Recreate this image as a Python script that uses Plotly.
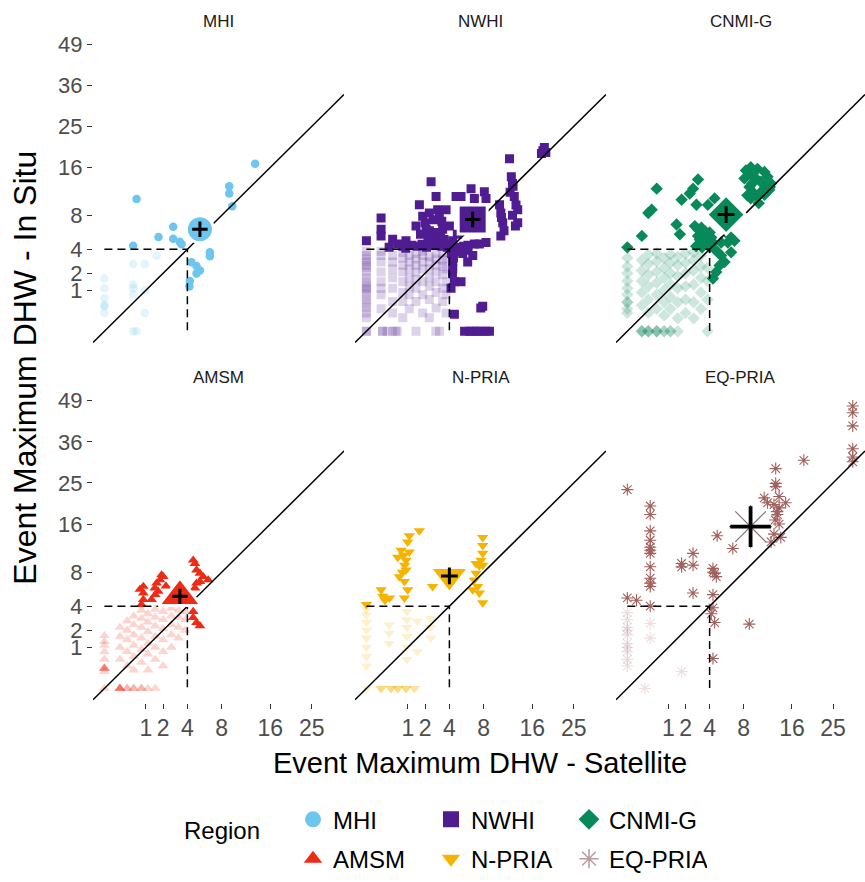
import numpy as np
import plotly.graph_objects as go

FONT = "Liberation Sans, Arial, sans-serif"

# ---------------- data (DHW values, satellite vs in situ) ----------------
region_names = ["MHI", "NWHI", "CNMI-G", "AMSM", "N-PRIA", "EQ-PRIA"]
region_colors = ["#6CC6EE", "#4F1C92", "#08895A", "#EE2B16", "#F5B400", "#A0605C"]
region_symbols = ["circle", "square", "diamond", "triangle-up", "triangle-down", "asterisk-open"]

y_tick_values = [1, 2, 4, 8, 16, 25, 36, 49]
x_tick_values = [1, 2, 4, 8, 16, 25]
bleaching_threshold = 4

mean_satellite = [5.3, 6.56, 5.76, 3.31, 4.0, 8.97]
mean_insitu = [6.2, 7.44, 8.1, 5.02, 7.49, 15.5]

mhi_points = [
    (13.2, 16.7), (0.6, 10.4), (9.05, 12.5), (9.05, 11.3), (9.5, 9.3), (2.75, 6.5),
    (1.7, 5.3), (2.75, 5.1), (3.3, 4.76), (3.46, 4.5), (0.48, 4.35), (6.46, 3.71),
    (6.46, 3.35), (4.4, 2.84), (4.93, 2.53), (5.3, 2.2), (4.93, 1.98), (4.24, 1.5),
    (4.2, 1.2),
    (0, 1.66), (0, 1.1), (0, 0.65), (0, 0.37), (0, 0.2), (0, 0.4), (0.48, 2.7),
    (0.95, 2.7), (0.48, 1.1), (0.48, 0.8), (0.48, 1.3), (0.95, 1.0), (0.95, 0.2),
    (0.48, 0), (0.6, 0), (1.58, 3.4),
]

nwhi_points = [
    (5.6, 0), (6.2, 0), (6.6, 0), (7.1, 0), (7.6, 0), (8.3, 0), (8.8, 0),
    (4.33, 2.85), (4.33, 2.33), (4.5, 1.46), (4.16, 1.1), (5.2, 1.46), (5.96, 2.85),
    (6.57, 3.41), (6.77, 4.52), (7.41, 4.52), (8.31, 4.69), (4.5, 0.17), (7.86, 0.37),
    (7.6, 0.32), (4.67, 3.8), (5.39, 3.6), (6.0, 3.9), (4.2, 4.0), (4.4, 3.2),
    (4.2, 3.6), (4.3, 2.0),
    (0, 4.87), (0.125, 7.65), (0.125, 6.18), (0.125, 5.41), (0.4, 5.05), (0.57, 4.52),
    (0.77, 4.3), (0.91, 4.87), (1.43, 6.58), (1.63, 9.52), (1.84, 7.87), (2.07, 6.18),
    (2.3, 8.33), (2.43, 13.3), (2.82, 10.8), (2.95, 8.8), (3.09, 7.65), (3.38, 6.18),
    (3.69, 8.8), (4.0, 6.58), (4.33, 4.87), (4.67, 10.8), (5.2, 10.8), (6.36, 12.1),
    (6.77, 10.5), (8.08, 11.6), (8.31, 10.5), (7.86, 6.18), (1.5, 4.3), (1.8, 4.5),
    (2.1, 4.2), (2.4, 4.6), (2.7, 4.4), (3.0, 4.8), (3.3, 4.3), (3.6, 4.5), (2.2, 5.2),
    (2.6, 5.5), (2.9, 5.8), (3.2, 5.3), (3.5, 5.0), (3.8, 4.2), (2.0, 7.0), (2.6, 7.4),
    (3.3, 7.2), (2.3, 6.0), (1.7, 5.6), (1.2, 4.4), (0.9, 4.1), (0.3, 4.2), (4.1, 4.3),
    (4.6, 4.1), (5.0, 4.2), (5.5, 4.3), (6.0, 4.4), (4.8, 5.6),
    (11.9, 17.7), (12.2, 14.2), (12.4, 13.0), (12.7, 10.8), (13.3, 8.8), (13.3, 7.0),
    (10.3, 9.52), (10.5, 8.33), (10.8, 7.0), (10.5, 5.41), (12.9, 6.58), (12.0, 11.5),
    (12.5, 12.5), (11.0, 6.0), (10.6, 7.7), (13.0, 9.5), (12.4, 8.0), (18.4, 20.1),
    (18.1, 19.4), (18.7, 19.0), (17.8, 18.8),
    (0, 0), (0, 0), (0, 0.11), (0, 0.2), (0, 0.32), (0, 0.45), (0, 0.6), (0, 0.79),
    (0, 1.0), (0, 1.2), (0, 1.46), (0, 1.7), (0, 2.09), (0, 2.4), (0, 2.85), (0, 3.1),
    (0, 3.41), (0, 3.8), (0, 1.1), (0, 2.6),
    (0.15, 0), (0.15, 0), (0.125, 0.3), (0.125, 0.79), (0.125, 1.1), (0.125, 1.46),
    (0.125, 2.09), (0.125, 2.85), (0.125, 3.41), (0.125, 3.8),
    (0.25, 0), (0.4, 0), (0.4, 0.2), (0.4, 0.53), (0.4, 1.1), (0.4, 1.7), (0.4, 2.3),
    (0.4, 2.85), (0.4, 3.41),
    (0.5, 0), (0.55, 0), (0.77, 0.11), (0.77, 0.53), (0.77, 0.9), (0.77, 1.46),
    (0.77, 2.09), (0.77, 2.6), (0.77, 3.2), (0.77, 3.7),
    (1.07, 0.3), (1.07, 0.79), (1.07, 1.2), (1.07, 1.7), (1.07, 2.3), (1.07, 2.85),
    (1.07, 3.41),
    (1.43, 0), (1.43, 0.53), (1.43, 1.1), (1.43, 1.6), (1.43, 2.09), (1.43, 2.6),
    (1.43, 3.1), (1.43, 3.6),
    (1.84, 0.2), (1.84, 0.79), (1.84, 1.46), (1.84, 2.3), (1.84, 2.85), (1.84, 3.41),
    (1.84, 3.8),
    (2.3, 0.11), (2.3, 0.6), (2.3, 1.2), (2.3, 1.7), (2.3, 2.3), (2.3, 2.85), (2.3, 3.3),
    (2.8, 0), (3.1, 0), (2.82, 0.32), (2.82, 0.9), (2.82, 1.46), (2.82, 2.09),
    (2.82, 2.6), (2.82, 3.1), (2.82, 3.6),
    (3.38, 0.53), (3.38, 1.1), (3.38, 1.9), (3.38, 2.5), (3.38, 3.0), (3.38, 3.7),
    (3.69, 0.2), (3.69, 0.79), (3.69, 1.46), (3.69, 2.3), (3.69, 3.1),
]

cnmi_points = [
    (8.3, 15.4), (9.0, 16.0), (10.0, 15.7), (11.1, 15.1), (11.6, 14.2), (12.2, 13.0),
    (11.9, 11.9), (11.1, 11.1), (9.5, 11.3), (8.8, 12.4), (8.1, 13.9), (8.8, 14.8),
    (10.5, 13.3), (9.5, 14.2), (11.3, 12.4), (10.0, 10.8), (10.5, 11.5), (12.0, 12.4),
    (10.2, 9.77), (9.2, 13.0), (9.0, 10.5), (8.5, 11.0),
    (2.95, 13.7), (2.55, 12.1), (2.3, 11.3), (1.74, 10.3), (2.82, 9.52), (0.51, 12.1),
    (0.35, 8.8), (0.26, 8.33), (0.125, 5.41), (1.43, 6.79), (1.63, 5.6), (0, 4.19),
    (4.5, 10.5), (3.84, 9.5),
    (2.69, 6.58), (2.95, 6.18), (3.24, 6.38), (3.53, 5.98), (3.84, 5.6), (4.16, 5.23),
    (2.95, 5.41), (3.4, 4.87), (3.7, 4.52), (4.0, 4.19), (4.33, 4.69), (4.5, 4.03),
    (4.84, 3.71), (5.2, 3.41), (5.58, 2.85), (5.02, 2.58), (4.67, 2.09), (4.33, 1.66),
    (5.96, 4.69), (6.36, 3.71), (6.77, 4.87), (6.16, 5.41), (5.2, 4.69), (3.1, 5.0),
    (3.6, 5.2), (4.0, 5.8), (2.8, 4.3), (3.3, 4.2),
    (0, 0.2), (0, 0.3), (0, 0.5), (0, 0.5), (0, 0.8), (0, 1.1), (0, 1.5), (0, 2.0),
    (0, 2.5), (0, 3.2),
    (0.125, 0), (0.125, 0), (0.125, 0), (0.125, 0.4), (0.125, 0.9), (0.125, 1.5),
    (0.125, 2.2), (0.125, 3.0),
    (0.26, 0), (0.26, 0), (0.26, 0), (0.26, 0.2), (0.26, 0.6), (0.26, 1.2), (0.26, 1.9),
    (0.26, 2.7), (0.26, 3.5),
    (0.51, 0), (0.51, 0), (0.51, 0), (0.51, 0.3), (0.51, 0.8), (0.51, 1.4), (0.51, 2.1),
    (0.51, 2.9), (0.51, 3.6),
    (0.8, 0), (0.8, 0), (0.8, 0.15), (0.8, 0.5), (0.8, 1.0), (0.8, 1.7), (0.8, 2.4),
    (0.8, 3.2),
    (1.1, 0), (1.1, 0), (1.1, 0.3), (1.1, 0.7), (1.1, 1.3), (1.1, 2.0), (1.1, 2.8),
    (1.1, 3.5),
    (1.5, 0), (1.5, 0.1), (1.5, 0.5), (1.5, 1.1), (1.5, 1.8), (1.5, 2.6), (1.5, 3.3),
    (2.0, 0.2), (2.0, 0.6), (2.0, 1.2), (2.0, 2.0), (2.0, 2.8), (2.0, 3.6),
    (2.6, 0.1), (2.6, 0.5), (2.6, 1.3), (2.6, 2.2), (2.6, 3.0), (2.6, 3.7),
    (3.2, 0.3), (3.2, 0.9), (3.2, 1.7), (3.2, 2.5), (3.2, 3.4),
    (3.8, 0), (3.8, 0.6), (3.8, 1.5), (3.8, 2.4),
]

amsm_points = [
    (0.88, 6.16), (0.88, 5.39), (0.88, 4.68), (0.8, 4.17), (0.73, 5.8), (1.29, 4.68),
    (1.48, 5.96), (1.58, 6.56), (1.68, 5.58), (1.9, 7.62), (1.79, 6.97), (2.01, 7.4),
    (1.5, 5.2), (4.58, 9.73), (4.76, 9.24), (4.93, 8.3), (5.3, 7.84), (5.67, 7.4),
    (6.26, 6.97), (5.3, 6.77), (4.76, 5.96), (4.93, 6.56), (4.58, 2.97), (4.93, 2.57),
    (5.3, 2.32), (4.58, 3.5), (2.2, 6.2), (3.0, 6.0), (2.6, 5.0),
    (0, 1.65), (0, 1.3), (0, 1.1), (0, 0.79), (0, 0.5), (0, 0.24), (0, 0.24), (0, 0.24),
    (0, 0.24), (0, 0.17), (0, 0),
    (0.14, 0), (0.14, 0), (0.14, 0), (0.14, 0), (0.14, 0), (0.14, 0.5), (0.14, 1.0),
    (0.14, 1.6), (0.14, 2.2),
    (0.3, 0), (0.3, 0), (0.3, 0.3), (0.3, 0.8), (0.3, 1.4), (0.3, 2.0), (0.3, 2.7),
    (0.5, 0), (0.5, 0), (0.5, 0.2), (0.5, 0.6), (0.5, 1.1), (0.5, 1.7), (0.5, 2.4),
    (0.5, 3.1),
    (0.8, 0), (0.8, 0), (0.8, 0.4), (0.8, 0.9), (0.8, 1.5), (0.8, 2.2), (0.8, 2.9),
    (0.8, 3.6),
    (1.1, 0), (1.1, 0.2), (1.1, 0.7), (1.1, 1.2), (1.1, 1.9), (1.1, 2.6), (1.1, 3.3),
    (1.5, 0), (1.5, 0.5), (1.5, 1.0), (1.5, 1.6), (1.5, 2.3), (1.5, 3.0), (1.5, 3.7),
    (2.0, 0.3), (2.0, 0.8), (2.0, 1.4), (2.0, 2.1), (2.0, 2.8), (2.0, 3.5),
    (2.6, 1.0), (2.6, 1.7), (2.6, 2.4), (2.6, 3.1), (2.6, 3.8),
    (3.2, 1.5), (3.2, 2.2), (3.2, 3.0), (3.2, 3.6),
    (3.8, 2.0), (3.8, 2.8), (3.8, 3.5),
]

npria_points = [
    (1.63, 14.7), (1.07, 13.8), (0.99, 12.7), (0.7, 11.3), (1.07, 11.0), (0.57, 10.2),
    (0.91, 9.73), (0.91, 8.3), (0.63, 7.4), (0.84, 6.77), (0.99, 5.77), (0.84, 4.85),
    (0.125, 5.77), (0.155, 5.03), (0.31, 4.85), (0, 4.17), (0.2, 4.6), (2.55, 6.16),
    (0.8, 10.5), (0.85, 9.0), (0.75, 8.0),
    (7.86, 13.5), (7.86, 12.1), (7.86, 10.8), (7.63, 9.73), (7.86, 9.0), (6.98, 7.84),
    (6.77, 6.97), (7.2, 6.16), (7.41, 5.39), (7.86, 4.34), (6.57, 5.77), (6.98, 9.24),
    (7.41, 8.9),
    (0, 0.3), (0, 0.6), (0, 1.0), (0, 1.5), (0, 2.0), (0, 2.6), (0, 3.2), (0, 3.7),
    (0.95, 0.5), (0.95, 1.0), (0.95, 1.6), (0.95, 2.2), (0.95, 2.8), (0.95, 3.5),
    (0.3, 1.2), (0.3, 1.8), (0.3, 2.4),
    (2.4, 1.5), (2.4, 2.2), (2.4, 2.9),
    (1.5, 0.8), (1.5, 2.7),
    (0.125, 0), (0.125, 0), (0.125, 0), (0.35, 0), (0.35, 0), (0.35, 0),
    (0.57, 0), (0.57, 0), (0.57, 0), (0.91, 0), (0.91, 0), (0.91, 0),
    (1.34, 0), (1.34, 0), (0, 0),
]

eqpria_points = [
    (30.0, 47.2), (30.0, 45.0), (30.0, 40.8), (30.0, 34.0), (30.0, 31.7), (30.0, 30.4),
    (18.4, 30.8), (13.0, 28.6), (13.0, 24.9), (13.0, 24.1), (11.06, 21.5), (12.7, 20.0),
    (13.6, 19.3), (14.8, 20.4), (13.3, 17.9), (13.6, 16.0), (12.7, 14.1), (13.9, 13.5),
    (12.2, 12.7), (11.6, 20.4), (13.6, 21.8), (13.2, 18.5), (12.9, 16.8),
    (4.77, 13.8), (6.57, 11.6), (8.78, 2.45), (2.55, 10.8), (2.55, 9.0), (1.74, 9.24),
    (1.74, 8.75), (2.55, 5.39), (4.33, 8.53), (4.5, 7.84), (4.67, 7.4), (4.33, 8.0),
    (4.33, 5.21), (4.33, 3.85), (4.5, 2.57), (4.33, 0.53), (4.16, 3.3),
    (0.31, 19.7), (0.31, 17.9), (0.31, 14.7), (0.31, 11.8), (0.31, 11.3), (0.31, 10.8),
    (0.31, 8.76), (0.31, 7.19), (0.31, 6.56), (0.31, 6.16), (0.31, 4.01), (0.31, 13.0),
    (0, 23.4), (0, 4.85), (0.05, 4.6),
    (0, 3.4), (0, 2.8), (0, 2.2), (0, 1.7), (0, 1.2), (0, 0.8), (0, 0.5), (0, 0.3),
    (0, 2.0), (0, 1.0), (0.31, 2.5), (0.31, 1.5), (0.18, 0), (1.74, 0.17),
]

all_points = [mhi_points, nwhi_points, cnmi_points, amsm_points, npria_points, eqpria_points]

# ---------------- styling / layout geometry ----------------
W, H = 865, 882
col_px = [(93, 344), (355, 606), (616, 865)]
row_px = [(30.5, 351.6), (393, 715)]
x_range = [-0.275, 5.775]
y_range = [-0.35, 7.35]

small_sizes = [8.5, 9, 9.5, 9.5, 10, 10]
mean_sizes = [27, 29, 30, 37, 34, 36]
cross_sizes = [11, 11, 12, 11, 12, 29]
faded_alpha = 0.2

fig = go.Figure()
layout_axes = {}
annotations = []

for i, name in enumerate(region_names):
    r, c = divmod(i, 3)
    suffix = "" if i == 0 else str(i + 1)
    xref, yref = "x" + suffix, "y" + suffix
    color = region_colors[i]
    sym = region_symbols[i]
    is_open = sym.endswith("-open")

    pts = all_points[i]
    sat = np.array([p[0] for p in pts], dtype=float)
    ins = np.array([p[1] for p in pts], dtype=float)
    low = (sat < bleaching_threshold) & (ins < bleaching_threshold)

    def mk(size, op):
        if is_open:
            return dict(symbol=sym, size=size, opacity=op, color=color,
                        line=dict(color=color, width=1.1))
        return dict(symbol=sym, size=size, opacity=op, color=color, line=dict(width=0))

    fig.add_trace(go.Scatter(x=np.sqrt(sat[low]), y=np.sqrt(ins[low]), mode="markers",
                             marker=mk(small_sizes[i], faded_alpha), showlegend=False,
                             xaxis=xref, yaxis=yref, hoverinfo="skip"))
    fig.add_trace(go.Scatter(x=np.sqrt(sat[~low]), y=np.sqrt(ins[~low]), mode="markers",
                             marker=mk(small_sizes[i], 1.0), showlegend=False,
                             xaxis=xref, yaxis=yref, hoverinfo="skip"))
    # 1:1 line
    fig.add_trace(go.Scatter(x=x_range, y=x_range, mode="lines",
                             line=dict(color="black", width=1.5), showlegend=False,
                             xaxis=xref, yaxis=yref, hoverinfo="skip"))
    # threshold lines
    t = np.sqrt(bleaching_threshold)
    fig.add_trace(go.Scatter(x=[0, t, t], y=[t, t, 0], mode="lines",
                             line=dict(color="black", width=1.5, dash="8px,5px"),
                             showlegend=False, xaxis=xref, yaxis=yref, hoverinfo="skip"))
    # mean marker
    mx, my = np.sqrt(mean_satellite[i]), np.sqrt(mean_insitu[i])
    if is_open:
        mmark = dict(symbol=sym, size=mean_sizes[i], color="#8C7373",
                     line=dict(color="#8C7373", width=1.2))
    else:
        mmark = dict(symbol=sym, size=mean_sizes[i], color=color,
                     line=dict(color="white", width=3))
    fig.add_trace(go.Scatter(x=[mx], y=[my], mode="markers", marker=mmark, showlegend=False,
                             xaxis=xref, yaxis=yref, hoverinfo="skip"))
    fig.add_trace(go.Scatter(x=[mx], y=[my], mode="markers",
                             marker=dict(symbol="cross-thin-open", size=cross_sizes[i],
                                         color="black",
                                         line=dict(color="black", width=3.8 if i == 5 else 3)),
                             showlegend=False, xaxis=xref, yaxis=yref, hoverinfo="skip"))

    x0, x1 = col_px[c]
    ytop, ybot = row_px[r]
    layout_axes["xaxis" + suffix] = dict(
        domain=[x0 / W, x1 / W], range=x_range, anchor=yref,
        showgrid=False, zeroline=False, showline=False, fixedrange=True,
        tickvals=list(np.sqrt(x_tick_values)), ticktext=[str(v) for v in x_tick_values],
        ticks="outside" if r == 1 else "", showticklabels=(r == 1), ticklen=5,
        tickwidth=1.2, tickcolor="#333333", tickangle=0,
        tickfont=dict(family=FONT, size=23, color="#4D4D4D"))
    layout_axes["yaxis" + suffix] = dict(
        domain=[1 - ybot / H, 1 - ytop / H], range=y_range, anchor=xref,
        showgrid=False, zeroline=False, showline=False, fixedrange=True,
        tickvals=list(np.sqrt(y_tick_values)), ticktext=[str(v) for v in y_tick_values],
        ticks="outside" if c == 0 else "", showticklabels=(c == 0), ticklen=5,
        tickwidth=1.2, tickcolor="#333333",
        tickfont=dict(family=FONT, size=22, color="#4D4D4D"))
    annotations.append(dict(text=name, x=(x0 + x1) / 2 / W, y=1 - (ytop - 9) / H,
                            xref="paper", yref="paper", showarrow=False,
                            xanchor="center", yanchor="middle",
                            font=dict(family=FONT, size=17, color="#1A1A1A")))

# legend entries
for i, name in enumerate(region_names):
    sym = region_symbols[i]
    if sym.endswith("-open"):
        lm = dict(symbol=sym, size=16, color="#B89C9C", line=dict(color="#B89C9C", width=1.5))
    else:
        lm = dict(symbol=sym, size=16, color=region_colors[i], line=dict(width=0))
    fig.add_trace(go.Scatter(x=[None], y=[None], mode="markers", marker=lm, name=name,
                             legend="legend" if i < 3 else "legend2", showlegend=True))

annotations += [
    dict(text="Event Maximum DHW - Satellite", x=480 / W, y=1 - 776 / H, xref="paper",
         yref="paper", showarrow=False, xanchor="center", yanchor="middle",
         font=dict(family=FONT, size=29, color="black")),
    dict(text="Event Maximum DHW - In Situ", x=25 / W, y=1 - 374 / H, xref="paper",
         yref="paper", showarrow=False, xanchor="center", yanchor="middle", textangle=-90,
         font=dict(family=FONT, size=32, color="black")),
    dict(text="Region", x=222 / W, y=1 - 845 / H, xref="paper", yref="paper",
         showarrow=False, xanchor="center", yanchor="middle",
         font=dict(family=FONT, size=24, color="black")),
]

legend_common = dict(orientation="h", xanchor="left", yanchor="top", entrywidth=93,
                     font=dict(family=FONT, size=24, color="black"),
                     bgcolor="rgba(0,0,0,0)", itemsizing="trace")

fig.update_layout(
    width=W, height=H, margin=dict(l=0, r=0, t=0, b=0),
    paper_bgcolor="white", plot_bgcolor="white",
    annotations=annotations,
    legend=dict(x=293 / W, y=1 - 811 / H, **legend_common),
    legend2=dict(x=293 / W, y=1 - 851 / H, **legend_common),
    **layout_axes,
)

fig.write_html("out.html")
